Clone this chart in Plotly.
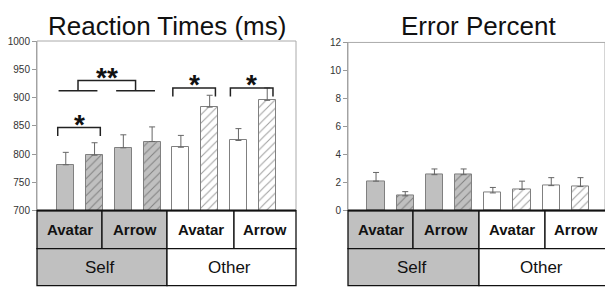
import plotly.graph_objects as go

# ---------------- data ----------------
stim_labels = ["Avatar", "Arrow", "Avatar", "Arrow"]
persp_labels = ["Self", "Other"]
bar_index = [0, 1, 2, 3, 4, 5, 6, 7]
hatched = [False, True, False, True, False, True, False, True]
is_self = [True, True, True, True, False, False, False, False]

rt_mean = [781, 798, 811, 822, 812, 883, 824, 895]
rt_sem = [22, 22, 23, 26, 21, 21, 21, 22]
err_mean = [2.10, 1.05, 2.56, 2.56, 1.26, 1.51, 1.78, 1.71]
err_sem = [0.62, 0.30, 0.41, 0.41, 0.39, 0.59, 0.57, 0.64]

rt_ticks = [700, 750, 800, 850, 900, 950, 1000]
err_ticks = [0, 2, 4, 6, 8, 10, 12]

# significance: (first bar, second bar, label, level)
sig_single = [(0, 1, "*", 847), (4, 5, "*", 917), (6, 7, "*", 917)]
# double: pair A, pair B, label, lower level, upper level
sig_double = [((0, 1), (2, 3), "**", 912, 930)]

# ---------------- layout helpers ----------------
W, H = 605, 293
FONT = "Arial, Liberation Sans, sans-serif"


def px(x):
    return x / W


def py(y):
    return 1 - y / H


GRAY = "#c0c0c0"
fills = [GRAY if s else "#ffffff" for s in is_self]
pat_shape = ["/" if h else "" for h in hatched]
pat_fg = ["#555555" if s else "#9a9a9a" for s in is_self]

fig = go.Figure()


def add_bars(y, e, xa, ya):
    fig.add_trace(go.Bar(
        x=bar_index, y=y, width=0.59, xaxis=xa, yaxis=ya,
        marker=dict(color=fills, line=dict(color="#808080", width=1),
                    pattern=dict(shape=pat_shape, fgcolor=pat_fg, bgcolor=fills,
                                 size=6, solidity=0.18)),
        error_y=dict(type="data", symmetric=False, array=e,
                     arrayminus=[0] * len(e), color="#666666",
                     thickness=1, width=3),
        showlegend=False, hoverinfo="skip"))


add_bars(rt_mean, rt_sem, "x", "y")
add_bars(err_mean, err_sem, "x2", "y2")

axis_common = dict(showgrid=False, zeroline=False)
fig.update_layout(
    width=W, height=H, margin=dict(l=0, r=0, t=0, b=0),
    paper_bgcolor="white", plot_bgcolor="white",
    font=dict(family=FONT, color="#222"),
    bargap=0,
    xaxis=dict(domain=[px(37), px(296)], range=[-1, 8], showticklabels=False,
               ticks="", showline=False, anchor="y", **axis_common),
    yaxis=dict(domain=[py(213.3), py(36.5)], range=[700, 1000], tickvals=rt_ticks,
               ticks="outside", ticklen=4, tickcolor="#999", showline=True,
               linecolor="#999", linewidth=1, anchor="x",
               tickfont=dict(size=10, color="#333"), **axis_common),
    xaxis2=dict(domain=[px(348), 1], range=[-0.96, 7.84], showticklabels=False,
                ticks="", showline=False, anchor="y2", **axis_common),
    yaxis2=dict(domain=[py(213.3), py(38)], range=[0, 12], tickvals=err_ticks,
                ticks="outside", ticklen=4, tickcolor="#999", showline=True,
                linecolor="#999", linewidth=1, anchor="x2",
                tickfont=dict(size=10, color="#333"), **axis_common),
)

shapes = []
annotations = []

# plot frames
for xr, yr in (("x domain", "y domain"), ("x2 domain", "y2 domain")):
    shapes.append(dict(type="rect", xref=xr, yref=yr, x0=0, x1=1, y0=0, y1=1,
                       line=dict(color="#aaaaaa", width=1), fillcolor="rgba(0,0,0,0)"))

# tables under the panels
row1 = (213.3, 253)
row2 = (253, 291.5)
tables = [[37, 102, 167, 234, 296], [348, 413, 479, 545, 607]]
LINE = dict(color="#111", width=1.3)
for cols in tables:
    for k in range(4):
        shapes.append(dict(type="rect", xref="paper", yref="paper",
                           x0=px(cols[k]), x1=px(cols[k + 1]),
                           y0=py(row1[1]), y1=py(row1[0]),
                           fillcolor=GRAY if k < 2 else "white", line=LINE))
        annotations.append(dict(xref="paper", yref="paper",
                                x=px((cols[k] + cols[k + 1]) / 2),
                                y=py((row1[0] + row1[1]) / 2),
                                text="<b>%s</b>" % stim_labels[k], showarrow=False,
                                font=dict(size=15, color="#111", family=FONT),
                                xanchor="center", yanchor="middle"))
    for k in range(2):
        a, b = cols[2 * k], cols[2 * k + 2]
        shapes.append(dict(type="rect", xref="paper", yref="paper",
                           x0=px(a), x1=px(b), y0=py(row2[1]), y1=py(row2[0]),
                           fillcolor=GRAY if k == 0 else "white", line=LINE))
        annotations.append(dict(xref="paper", yref="paper",
                                x=px((a + b) / 2 - 2), y=py((row2[0] + row2[1]) / 2),
                                text=persp_labels[k], showarrow=False,
                                font=dict(size=17, color="#111", family=FONT),
                                xanchor="center", yanchor="middle"))
    shapes.append(dict(type="line", xref="paper", yref="paper",
                       x0=px(cols[0]), x1=px(cols[-1]), y0=py(row1[0]), y1=py(row1[0]),
                       line=dict(color="#111", width=2)))

# significance brackets (left panel, data coordinates)
BR = dict(color="#222", width=1.5)
STAR = dict(size=28, color="#111", family=FONT)
for i, j, lab, lvl in sig_single:
    x0, x1 = i - 0.28, j + 0.2
    leg = lvl - 15
    shapes.append(dict(type="path", xref="x", yref="y",
                       path="M %f %f L %f %f L %f %f L %f %f" % (x0, leg, x0, lvl, x1, lvl, x1, leg),
                       line=BR))
    annotations.append(dict(xref="x", yref="y", x=(x0 + x1) / 2, y=lvl,
                            text="<b>%s</b>" % lab, showarrow=False, font=STAR,
                            xanchor="center", yanchor="middle", yshift=3))
for pa, pb, lab, low, up in sig_double:
    mids = []
    for (i, j) in (pa, pb):
        x0, x1 = i - 0.25, j + 0.1
        shapes.append(dict(type="line", xref="x", yref="y", x0=x0, x1=x1, y0=low, y1=low, line=BR))
        mids.append((x0 + x1) / 2)
    shapes.append(dict(type="path", xref="x", yref="y",
                       path="M %f %f L %f %f L %f %f L %f %f" % (mids[0], low, mids[0], up, mids[1], up, mids[1], low),
                       line=BR))
    annotations.append(dict(xref="x", yref="y", x=(mids[0] + mids[1]) / 2, y=up,
                            text="<b>%s</b>" % lab, showarrow=False, font=STAR,
                            xanchor="center", yanchor="middle", yshift=3))

# panel titles
annotations.append(dict(xref="paper", yref="paper", x=px(166.5), y=py(20.6),
                        text="Reaction Times (ms)", showarrow=False,
                        font=dict(size=26, color="#111", family=FONT),
                        xanchor="center", yanchor="middle"))
annotations.append(dict(xref="paper", yref="paper", x=px(478.5), y=py(20.6),
                        text="Error Percent", showarrow=False,
                        font=dict(size=26, color="#111", family=FONT),
                        xanchor="center", yanchor="middle"))

fig.update_layout(shapes=shapes, annotations=annotations)
fig.write_html("out.html", config={"displayModeBar": False},
               post_script="document.body.style.margin='0';")
